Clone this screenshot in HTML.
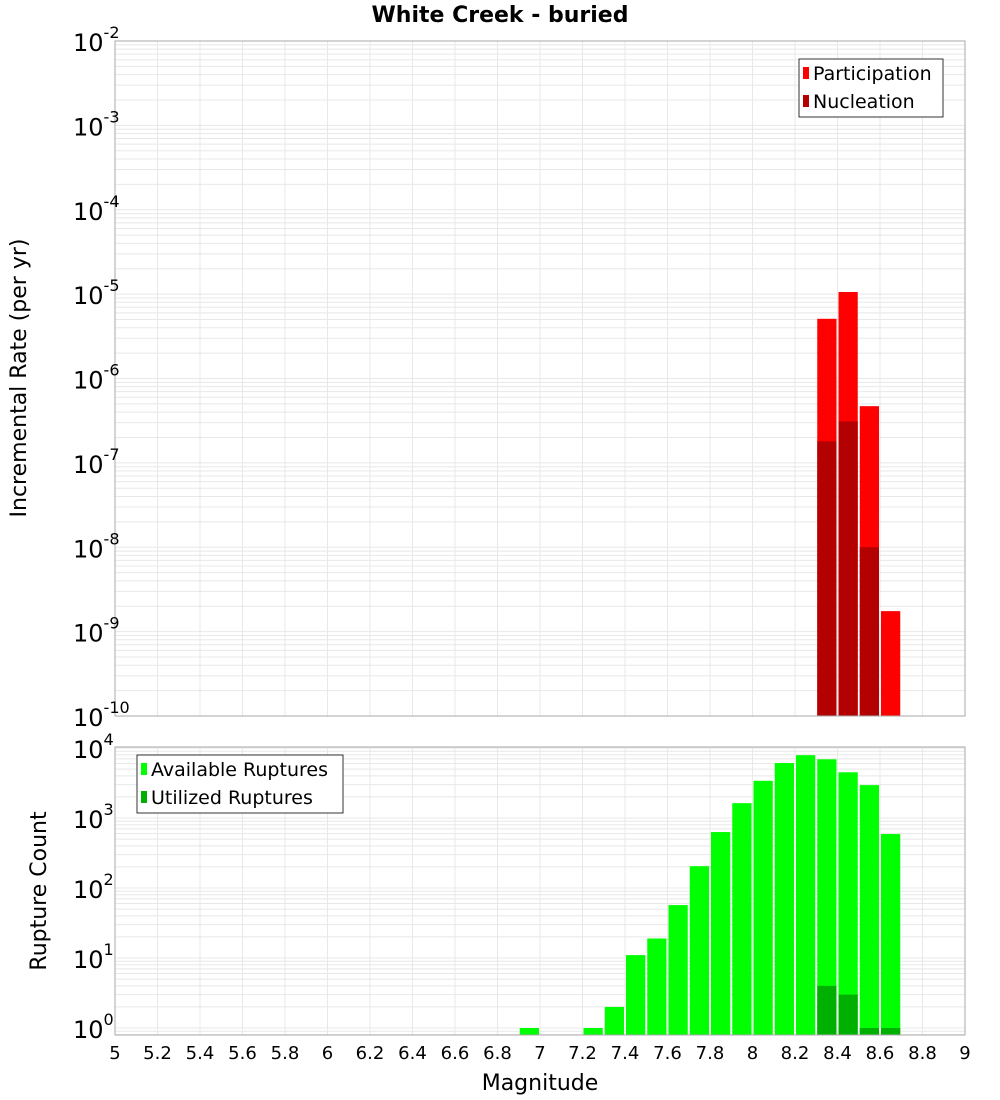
<!DOCTYPE html>
<html><head><meta charset="utf-8"><style>
body{margin:0;background:#fff;}
svg{display:block;font-family:"DejaVu Sans","Liberation Sans",sans-serif;}
</style></head><body>
<svg id="c" width="1000" height="1100" viewBox="0 0 1000 1100" xmlns="http://www.w3.org/2000/svg"></svg>
<script>
const magCenters=[8.35,8.45,8.55,8.65];
const participation=[5.1e-6,1.06e-5,4.7e-7,1.75e-9];
const nucleation=[1.8e-7,3.1e-7,1.0e-8,0];
const countMags=[6.95,7.25,7.35,7.45,7.55,7.65,7.75,7.85,7.95,8.05,8.15,8.25,8.35,8.45,8.55,8.65];
const availableCounts=[1,1,2,11,19,57,205,630,1630,3400,6100,7900,6900,4500,2950,590];
const utilizedMags=[8.35,8.45,8.55,8.65];
const utilizedCounts=[4,3,1,1];
const xTicks=["5","5.2","5.4","5.6","5.8","6","6.2","6.4","6.6","6.8","7","7.2","7.4","7.6","7.8","8","8.2","8.4","8.6","8.8","9"];
const topExps=[-10,-9,-8,-7,-6,-5,-4,-3,-2];
const botExps=[0,1,2,3,4];

const NS="http://www.w3.org/2000/svg";
const svg=document.getElementById('c');
function mk(tag,attrs,parent){const e=document.createElementNS(NS,tag);for(const k in attrs)e.setAttribute(k,attrs[k]);(parent||svg).appendChild(e);return e;}
const L=115,R=965;
const xs=m=>L+(m-5)/4*(R-L);
const T1=41,B1=716; const yTop=v=>B1-(Math.log10(v)+10)/8*(B1-T1);
const T2=747,B2=1035; const yBot=v=>1028-Math.log10(v)*70;

// grids
function grid(T,B,yf,e0,e1){
  for(let e=e0;e<=e1;e++)for(let k=1;k<=9;k++){const y=yf(k*Math.pow(10,e));if(y<T||y>B)continue;
    const g=mk('line',{x1:L,x2:R,y1:y,y2:y,stroke:'#e8e8e8','stroke-width':1});
    
    }
  for(let i=0;i<xTicks.length;i++){const x=xs(parseFloat(xTicks[i]));
    const g=mk('line',{x1:x,x2:x,y1:T,y2:B,stroke:'#e8e8e8','stroke-width':1});
    
    }
}
grid(T1,B1,yTop,-10,-2);
grid(T2,B2,yBot,-1,4);

function bar(m,v,yf,B,fill,name){
  if(!(v>0))return;
  const x0=xs(m-0.05)+1,x1=xs(m+0.05)-1,y=yf(v);
  const r=mk('rect',{x:x0,y:y,width:x1-x0,height:B-y,fill:fill});
  
  
}
for(let i=0;i<magCenters.length;i++)bar(magCenters[i],participation[i],yTop,B1,'#ff0000','participation-bar');
for(let i=0;i<magCenters.length;i++)bar(magCenters[i],nucleation[i],yTop,B1,'#b30000','nucleation-bar');
for(let i=0;i<countMags.length;i++)bar(countMags[i],availableCounts[i],yBot,B2,'#00ff00','available-bar');
for(let i=0;i<utilizedMags.length;i++)bar(utilizedMags[i],utilizedCounts[i],yBot,B2,'#00b000','utilized-bar');

// borders
let b=mk('rect',{x:L,y:T1,width:R-L,height:B1-T1,fill:'none',stroke:'#aaa'});

b=mk('rect',{x:L,y:T2,width:R-L,height:B2-T2,fill:'none',stroke:'#aaa'});


// y tick labels
function ylab(y,e,name){
  const t=mk('text',{x:108,y:y+10,'text-anchor':'end','font-size':24,fill:'#000'});
  
  
  t.textContent='10';
  const s=mk('tspan',{dy:-13,'font-size':16},t);s.textContent=String(e);
  t.setAttribute('x',L-42);t.setAttribute('text-anchor','start');
  if(String(e).length>2){t.setAttribute('x',L-42);}
}
for(const e of topExps)ylab(yTop(Math.pow(10,e)),e,'y-tick-label');
for(const e of botExps)ylab(yBot(Math.pow(10,e)),e,'y-tick-label');

// x tick labels
for(const s of xTicks){const t=mk('text',{x:xs(parseFloat(s)),y:1059,'text-anchor':'middle','font-size':18,fill:'#000'});
  
  
  t.textContent=s;}

// titles
let t=mk('text',{x:500,y:22,'text-anchor':'middle','font-size':22,'font-weight':'bold'});
t.textContent='White Creek - buried';
t=mk('text',{x:540,y:1090,'text-anchor':'middle','font-size':22});
t.textContent='Magnitude';
t=mk('text',{x:0,y:0,'text-anchor':'middle','font-size':22,transform:'translate(26,378) rotate(-90)'});
t.textContent='Incremental Rate (per yr)';
t=mk('text',{x:0,y:0,'text-anchor':'middle','font-size':22,transform:'translate(46,891) rotate(-90)'});
t.textContent='Rupture Count';

// legends
function legend(x,y,w,h,items,name){
  const g=mk('g',{});
  mk('rect',{x:x,y:y,width:w,height:h,fill:'#fff',stroke:'#333'},g);
  items.forEach((it,i)=>{const cy=y+14+i*28;
    const r=mk('rect',{x:x+4,y:cy-6,width:6,height:12,fill:it[1]},g);
    
    const tt=mk('text',{x:x+14,y:cy+7,'font-size':19},g);
    
    tt.textContent=it[0];});
}
legend(799,59,144,58,[['Participation','#ff0000'],['Nucleation','#b30000']],'top-legend');
legend(137,755,206,58,[['Available Ruptures','#00ff00'],['Utilized Ruptures','#00b000']],'bottom-legend');
</script>
</body></html>
